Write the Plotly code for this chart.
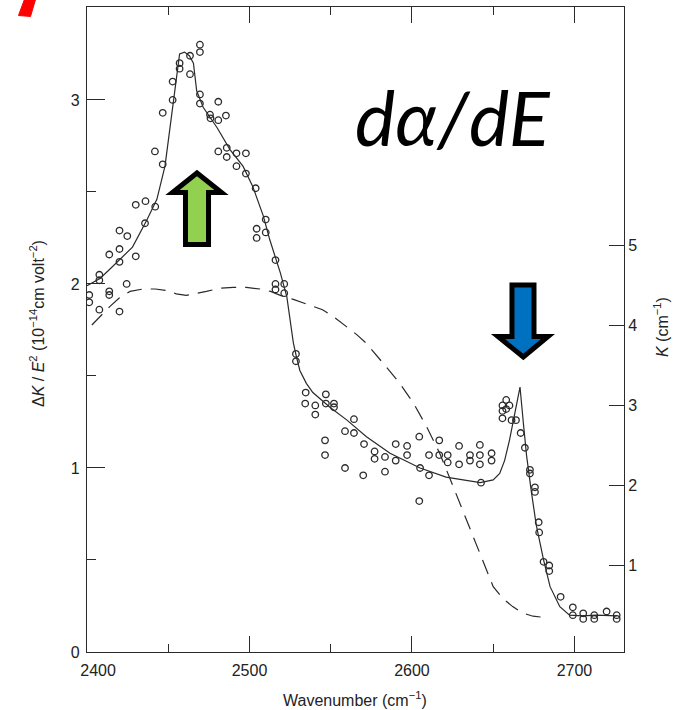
import plotly.graph_objects as go

# ---------------- data ----------------
# fitted solid curve: dK/E^2 (left axis)
fit_x = [2400, 2408, 2414, 2420, 2428, 2437, 2443, 2448, 2451, 2454, 2457, 2460, 2463,
         2465.5, 2467.5, 2471.5, 2480, 2488, 2496, 2502, 2508.5, 2512.5, 2519, 2523,
         2525, 2527, 2529, 2531, 2535, 2539, 2549.5, 2560, 2572, 2586.5, 2605, 2621,
         2642, 2650, 2654, 2657, 2660, 2663.5, 2666.5, 2668.5, 2670.5, 2673.5, 2676.5,
         2681, 2685, 2691, 2697, 2705, 2713.5, 2726]
fit_y = [1.99, 2.03, 2.08, 2.13, 2.20, 2.35, 2.46, 2.64, 2.84, 3.07, 3.25, 3.26, 3.24,
         3.20, 3.05, 2.96, 2.85, 2.73, 2.64, 2.53, 2.37, 2.24, 2.06, 1.93,
         1.80, 1.68, 1.60, 1.53, 1.46, 1.41, 1.33, 1.26, 1.17, 1.08, 1.00, 0.95,
         0.92, 0.935, 0.97, 1.04, 1.15, 1.31, 1.44, 1.25, 1.07, 0.87, 0.69,
         0.50, 0.355, 0.246, 0.20, 0.196, 0.20, 0.196]

# absorption K (right axis), dashed curve
k_x = [2403, 2409, 2414, 2420, 2426.5, 2434.5, 2442, 2449, 2455, 2461, 2467, 2473.5,
       2482, 2490, 2498, 2506.5, 2513, 2519, 2527, 2535, 2545, 2552, 2560, 2566, 2572,
       2578, 2584, 2592.5, 2601, 2609, 2617, 2623, 2629.5, 2636, 2642, 2646, 2650,
       2656, 2662, 2668, 2674.5, 2684]
k_y = [4.00, 4.13, 4.23, 4.34, 4.42, 4.45, 4.45, 4.43, 4.39, 4.37, 4.39, 4.42,
       4.46, 4.47, 4.47, 4.45, 4.42, 4.37, 4.32, 4.26, 4.19, 4.10, 3.98, 3.88, 3.77,
       3.63, 3.48, 3.27, 3.02, 2.73, 2.40, 2.10, 1.77, 1.42, 1.12, 0.93, 0.73,
       0.58, 0.48, 0.40, 0.36, 0.34]

# measured points (open circles)
pts_x = [2401.4, 2401.4, 2407.6, 2407.6, 2407.6, 2413.7, 2413.7, 2413.7, 2420, 2420, 2420, 2420,
         2424.4, 2424.8, 2430, 2430, 2435.7, 2436, 2442, 2441.8, 2446.6, 2446.6, 2452.7, 2452.7,
         2457, 2457, 2463.4, 2463.4, 2469.5, 2469.5, 2469.5, 2469.5, 2475.7, 2476, 2480.8, 2480.8,
         2485.5, 2480.8, 2486, 2486, 2492, 2492, 2497.8, 2497.8, 2503.8, 2504.4, 2504.4, 2510,
         2510, 2516, 2516, 2516, 2521.4, 2521.4, 2528.6, 2528.6, 2534.6, 2534.3, 2540.5, 2540.5,
         2547, 2547, 2546.5, 2546.5, 2552, 2552, 2558.8, 2558.8, 2564.3, 2564.3, 2570, 2570.5,
         2577, 2577, 2583.4, 2583.4, 2590, 2590, 2597, 2597, 2604.5, 2604.5, 2605, 2610.5,
         2610.5, 2616.8, 2616.8, 2622, 2622, 2629, 2629, 2635.7, 2635.7, 2641.8, 2641.8, 2641.8,
         2642.5, 2649, 2649, 2655.7, 2655.7, 2655.7, 2658, 2660, 2658, 2661.3, 2664, 2666.9,
         2669.5, 2672.6, 2672.6, 2675.7, 2675.7, 2678, 2678.3, 2681, 2684.5, 2684.5, 2691.5, 2699,
         2699, 2705.4, 2705.4, 2712.2, 2712.2, 2719.8, 2726, 2726]
pts_y = [1.94, 1.90, 2.05, 2.02, 1.86, 1.96, 1.94, 2.16, 2.29, 2.19, 2.12, 1.85,
         2.00, 2.26, 2.43, 2.15, 2.33, 2.45, 2.42, 2.72, 2.65, 2.93, 3.00, 3.10,
         3.20, 3.17, 3.24, 3.14, 3.30, 3.26, 3.03, 2.98, 2.92, 2.90, 2.99, 2.89,
         2.915, 2.72, 2.74, 2.69, 2.71, 2.64, 2.71, 2.60, 2.52, 2.30, 2.25, 2.35,
         2.28, 2.13, 2.00, 1.97, 2.00, 1.95, 1.62, 1.58, 1.41, 1.35, 1.34, 1.29,
         1.40, 1.35, 1.15, 1.07, 1.35, 1.33, 1.20, 1.00, 1.265, 1.19, 0.96, 1.13,
         1.09, 1.05, 1.06, 0.98, 1.13, 1.04, 1.12, 1.07, 1.17, 0.82, 1.00, 1.07,
         0.96, 1.15, 1.07, 1.07, 1.03, 1.12, 1.02, 1.07, 1.04, 1.125, 1.07, 1.02,
         0.92, 1.08, 1.04, 1.34, 1.31, 1.27, 1.37, 1.34, 1.32, 1.26, 1.26, 1.19,
         1.11, 0.99, 0.97, 0.895, 0.87, 0.705, 0.65, 0.49, 0.47, 0.44, 0.30, 0.243,
         0.20, 0.21, 0.18, 0.20, 0.18, 0.22, 0.20, 0.18]

x_ticks = [2400, 2500, 2600, 2700]
x_ticktext = ["\u00a0\u00a0\u00a0\u00a0\u00a02400", "2500", "2600", "2700"]
y_ticks = [0, 1, 2, 3]
k_ticks = [1, 2, 3, 4, 5]

# ---------------- layout geometry (pixels) ----------------
W, H = 679, 710
L, R, T, B = 87, 624, 7, 652   # plot area edges in pixels


def px(xp, yp):
    """pixel -> paper coords"""
    return (xp - L) / (R - L), (B - yp) / (B - T)


def path(points):
    s = ""
    for i, (a, b) in enumerate(points):
        u, v = px(a, b)
        s += ("M" if i == 0 else "L") + f"{u:.4f},{v:.4f} "
    return s + "Z"


INK = "#2a2a2a"
FONT = "Liberation Sans"

fig = go.Figure()
fig.add_trace(go.Scatter(x=k_x, y=k_y, yaxis="y2", mode="lines",
                         line=dict(color=INK, width=1.2, dash="15px,9px"),
                         showlegend=False, hoverinfo="skip"))
fig.add_trace(go.Scatter(x=fit_x, y=fit_y, mode="lines",
                         line=dict(color=INK, width=1.2),
                         showlegend=False, hoverinfo="skip"))
fig.add_trace(go.Scatter(x=pts_x, y=pts_y, mode="markers",
                         marker=dict(symbol="circle-open", size=6.5, color=INK,
                                     line=dict(width=1.3, color=INK)),
                         showlegend=False))

axis_common = dict(showgrid=False, zeroline=False, showline=True,
                   linecolor=INK, linewidth=1.3, ticks="inside", tickcolor=INK,
                   tickwidth=1.3, tickfont=dict(family=FONT, size=16, color="#222"))

fig.update_layout(
    width=W, height=H,
    margin=dict(l=L, r=W - R, t=T, b=H - B, pad=0),
    paper_bgcolor="white", plot_bgcolor="white",
    xaxis=dict(range=[2400, 2730.5], tickvals=x_ticks, ticktext=x_ticktext,
               ticklen=16, mirror="ticks", ticklabelstandoff=4,
               minor=dict(dtick=50, ticklen=8, ticks="inside", tickcolor=INK, tickwidth=1.3),
               **axis_common),
    yaxis=dict(range=[0, 3.505], tickvals=y_ticks, ticklen=18, ticklabelstandoff=3,
               minor=dict(dtick=0.5, ticklen=9, ticks="inside", tickcolor=INK, tickwidth=1.3),
               **axis_common),
    yaxis2=dict(range=[-0.0875, 7.975], tickvals=k_ticks, ticklen=15,
                overlaying="y", side="right", **axis_common),
)

title_font = dict(family=FONT, size=16, color="#222")
xu, yu = px(355, 699)
fig.add_annotation(xref="paper", yref="paper", x=xu, y=yu, showarrow=False,
                   text="Wavenumber (cm<sup>−1</sup>)", font=title_font,
                   xanchor="center", yanchor="middle")
xu, yu = px(37, 324)
fig.add_annotation(xref="paper", yref="paper", x=xu, y=yu, showarrow=False, textangle=-90,
                   text="Δ<i>K</i> / <i>E</i><sup>2</sup> (10<sup>−14</sup>cm volt<sup>−2</sup>)",
                   font=title_font, xanchor="center", yanchor="middle")
xu, yu = px(661, 327)
fig.add_annotation(xref="paper", yref="paper", x=xu, y=yu, showarrow=False, textangle=-90,
                   text="<i>K</i> (cm<sup>−1</sup>)", font=title_font,
                   xanchor="center", yanchor="middle")

# big label
xu, yu = px(453, 116)
fig.add_annotation(xref="paper", yref="paper", x=xu, y=yu, showarrow=False,
                   text="<i>dα/dE</i>", font=dict(family="Lato", size=76, color="black"),
                   xanchor="center", yanchor="middle")

# green up arrow
green = [(197, 173), (221.5, 192.5), (208.5, 192.5), (208.5, 244.5),
         (185.5, 244.5), (185.5, 192.5), (172.5, 192.5)]
fig.add_shape(type="path", xref="paper", yref="paper", path=path(green),
              fillcolor="#92D050", line=dict(color="black", width=5), layer="above")
# blue down arrow
blue = [(512, 285), (534, 285), (534, 336.5), (548, 336.5), (523.3, 357),
        (498, 336.5), (512, 336.5)]
fig.add_shape(type="path", xref="paper", yref="paper", path=path(blue),
              fillcolor="#0070C0", line=dict(color="black", width=5), layer="above")
# red stroke top-left corner
red = [(25, -2), (36, -2), (30.5, 16.5), (18.5, 15.5)]
fig.add_shape(type="path", xref="paper", yref="paper", path=path(red),
              fillcolor="#FF0000", line=dict(color="#FF0000", width=1), layer="above")

fig.write_html("out.html")
